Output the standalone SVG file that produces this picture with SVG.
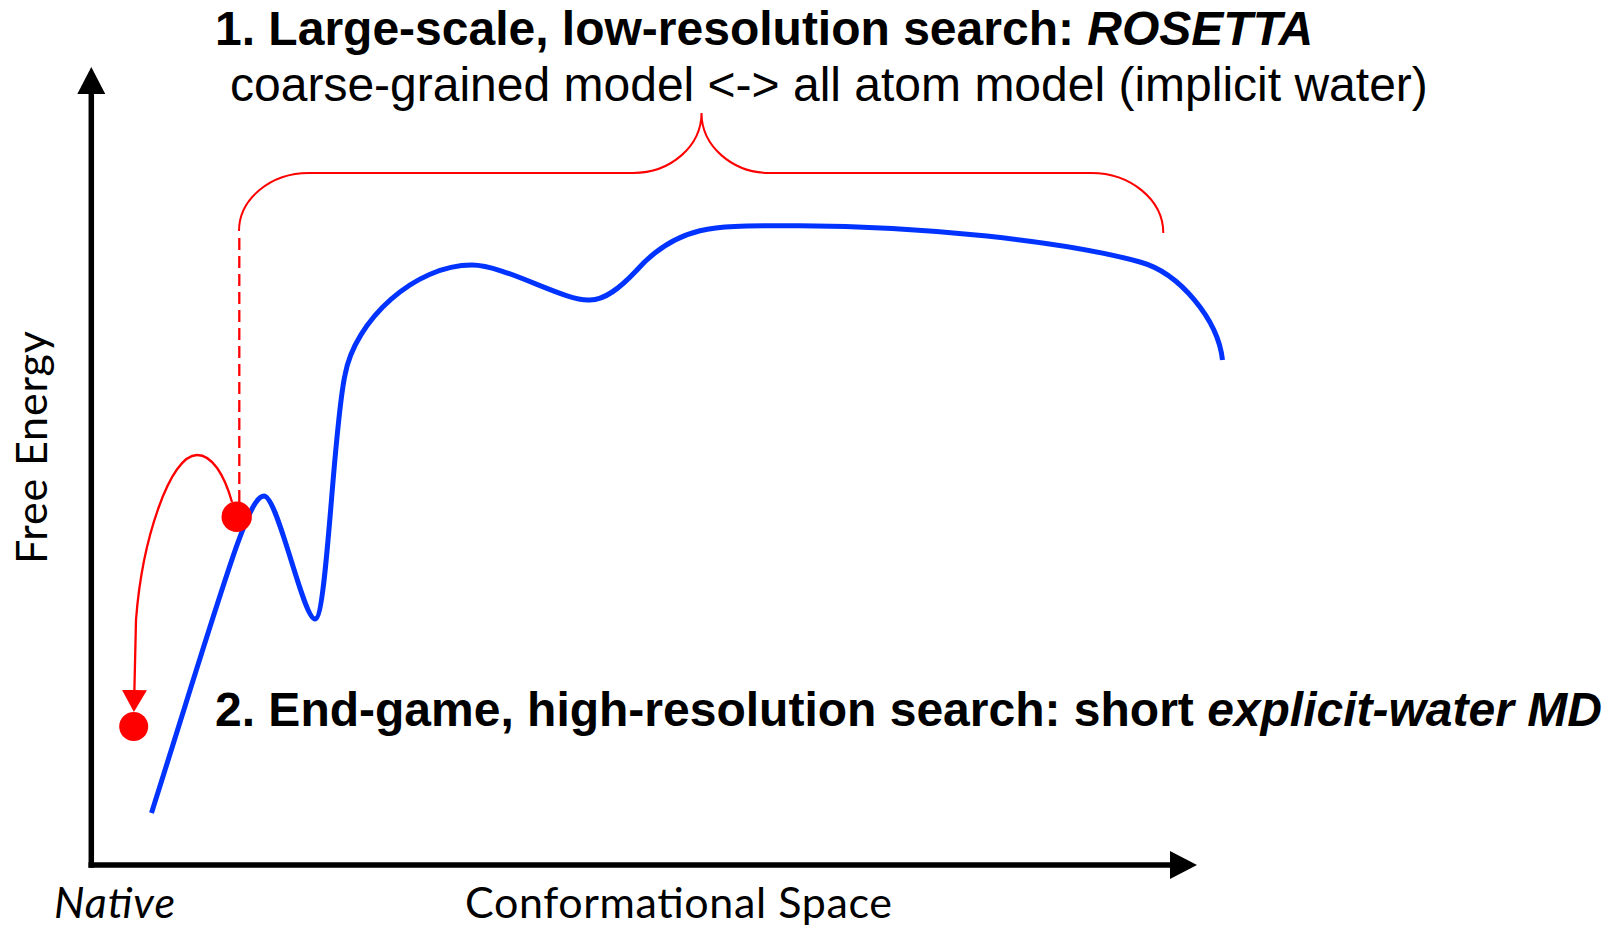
<svg xmlns="http://www.w3.org/2000/svg" width="1622" height="928" viewBox="0 0 1622 928">
  <style>
    .title { font-family: "Liberation Sans", Arial, sans-serif; font-size: 48px; fill: #000; }
    .bold { font-weight: bold; }
    .axis-label { font-family: Lato, "Open Sans", sans-serif; font-size: 43px; fill: #000; }
    .axis { stroke: #000; stroke-width: 5.5; fill: none; }
    .landscape { stroke: #0033ff; stroke-width: 5; fill: none; stroke-linecap: butt; stroke-linejoin: round; }
    .red-line { stroke: #ff0000; fill: none; }
    .state { fill: #ff0000; }
  </style>
  <defs>
    <marker id="axisHead" markerUnits="userSpaceOnUse" markerWidth="27" markerHeight="28" refX="0" refY="14" orient="auto" viewBox="0 0 27 28">
      <path d="M0,0 L27,14 L0,28 z" fill="#000"/>
    </marker>
    <marker id="redHead" markerUnits="userSpaceOnUse" markerWidth="22" markerHeight="25" refX="0" refY="12.5" orient="auto" viewBox="0 0 22 25">
      <path d="M0,0 L22,12.5 L0,25 z" fill="#ff0000"/>
    </marker>
  </defs>

  <!-- axes -->
  <g id="axes">
    <line class="axis" x1="91.3" y1="867.8" x2="91.3" y2="94" marker-end="url(#axisHead)"/>
    <line class="axis" x1="88.5" y1="865" x2="1170" y2="865" marker-end="url(#axisHead)"/>
  </g>

  <!-- energy landscape curve -->
  <g id="landscape">
    <path class="landscape" d="M151.5,813 C225,580 248,496 264,496 C278,496 303,619 315,619 C327,619 333,430 345,375 C355,320 415,265 472,265 C505,265 565,302 590,300 C605,300 620,288 636,271 C650,255 670,238 700,230.7 C720,226 740,225.7 800,225.7 C920,226 1065,241 1140,262 C1180,273 1218,320 1222.5,360"/>
  </g>

  <!-- connectors -->
  <g id="connectors">
    <!-- brace spanning the low-resolution search range -->
    <path class="red-line" stroke-width="2" d="M239,231 C239,199 270.3,173 309,173 L633,173 C670.8,173 701.5,146 701.5,113 C701.5,146 732.2,173 770,173 L1091,173 C1130.8,173 1163.3,200 1163.3,233"/>
    <!-- dashed drop from brace to the selected state -->
    <line class="red-line" stroke-width="2.3" stroke-dasharray="12 6" x1="239.3" y1="238" x2="239.3" y2="503"/>
    <!-- hop from the selected state to the native state -->
    <path class="red-line" stroke-width="2.3" d="M232,502 C224,474 212,455 197,455 C170,455 142,540 136,620 L134.4,690" marker-end="url(#redHead)"/>
  </g>

  <!-- states -->
  <g id="state-selected">
    <circle class="state" cx="236.7" cy="516.7" r="15.2"/>
  </g>
  <g id="state-native">
    <circle class="state" cx="133.7" cy="726.5" r="14.5"/>
  </g>

  <!-- labels -->
  <g id="label-stage1">
    <text class="title bold" x="215" y="45">1. Large-scale, low-resolution search: <tspan font-style="italic">ROSETTA</tspan></text>
    <text class="title" x="230" y="101">coarse-grained model &lt;-&gt; all atom model (implicit water)</text>
  </g>
  <g id="label-stage2">
    <text class="title bold" x="215" y="726">2. End-game, high-resolution search: short <tspan font-style="italic">explicit-water MD</tspan></text>
  </g>
  <g id="label-y">
    <text class="axis-label" text-anchor="middle" transform="translate(47,447.5) rotate(-90)" textLength="233">Free Energy</text>
  </g>
  <g id="label-x">
    <text class="axis-label" x="465" y="918" textLength="427">Conformational Space</text>
    <text class="axis-label" x="54" y="918" font-style="italic" textLength="121">Native</text>
  </g>
</svg>
